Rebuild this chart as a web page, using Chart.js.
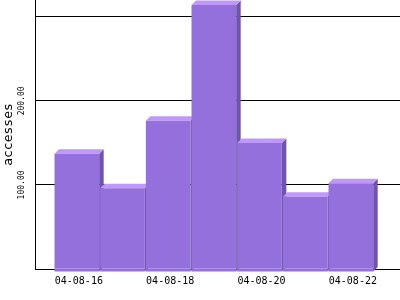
<!DOCTYPE html>
<html>
<head>
<meta charset="utf-8">
<script src="https://cdn.jsdelivr.net/npm/chart.js@4/dist/chart.umd.min.js"></script>
<style>
  html, body { margin: 0; padding: 0; background: #ffffff; }
  #wrap { width: 400px; height: 300px; }
</style>
</head>
<body>
<div id="wrap"><canvas id="chart" width="400" height="300"></canvas></div>
<script>
// --- dados do gráfico ---
const categorias = ['04-08-16', '04-08-17', '04-08-18', '04-08-19', '04-08-20', '04-08-21', '04-08-22'];
const acessos = [137, 96, 176.5, 314, 150, 86, 102];
const posicoesX = [0, 1, 2, 3, 4, 5, 6];
const ticksX = [0, 2, 4, 6];          // rótulos mostrados no eixo x
const gradeY = [0, 100, 200, 300];    // linhas horizontais
const rotulosY = [100, 200];          // valores com texto no eixo y

// cores das faces da barra "3D"
const corFrente = '#9370db';
const corTopo = '#c096ff';
const corLado = '#6e55aa';
const profundidade = 4.5;
const abaixoBase = 3;

Chart.defaults.font.family = "'DejaVu Sans Mono', monospace";
Chart.defaults.color = '#000000';

// Desenha topo e lateral de cada barra antes das frentes, e o pé abaixo da base depois.
const barras3d = {
    id: 'barras3d',
    beforeDatasetsDraw(chart) {
        const ctx = chart.ctx;
        const meta = chart.getDatasetMeta(0);
        ctx.save();
        meta.data.forEach(bar => {
            const p = bar.getProps(['x', 'y', 'width', 'base'], true);
            const L = p.x - p.width / 2;
            const R = p.x + p.width / 2;
            const T = p.y;
            const B = p.base + abaixoBase;
            const d = profundidade;
            // lateral
            ctx.fillStyle = corLado;
            ctx.beginPath();
            ctx.moveTo(R, T);
            ctx.lineTo(R + d, T - d);
            ctx.lineTo(R + d, B - d);
            ctx.lineTo(R, B);
            ctx.closePath();
            ctx.fill();
            // topo
            ctx.fillStyle = corTopo;
            ctx.beginPath();
            ctx.moveTo(L, T);
            ctx.lineTo(L + d, T - d);
            ctx.lineTo(R + d, T - d);
            ctx.lineTo(R, T);
            ctx.closePath();
            ctx.fill();
        });
        ctx.restore();
    },
    afterDatasetsDraw(chart) {
        const ctx = chart.ctx;
        const meta = chart.getDatasetMeta(0);
        ctx.save();
        ctx.fillStyle = corFrente;
        meta.data.forEach(bar => {
            const p = bar.getProps(['x', 'width', 'base'], true);
            ctx.fillRect(p.x - p.width / 2, p.base, p.width, abaixoBase);
        });
        ctx.restore();
    },
    afterDraw(chart) {
        // rótulos do eixo y, girados na vertical
        const ctx = chart.ctx;
        const escalaY = chart.scales.y;
        ctx.save();
        ctx.font = "8px 'DejaVu Sans Mono', monospace";
        ctx.fillStyle = '#000000';
        ctx.textAlign = 'center';
        ctx.textBaseline = 'middle';
        rotulosY.forEach(v => {
            const y = escalaY.getPixelForValue(v);
            ctx.save();
            ctx.translate(22, y);
            ctx.rotate(-Math.PI / 2);
            ctx.fillText(v.toFixed(2), 0, 0);
            ctx.restore();
        });
        ctx.restore();
    }
};

new Chart(document.getElementById('chart'), {
    type: 'bar',
    data: {
        datasets: [{
            label: 'accesses',
            data: posicoesX.map((x, i) => ({ x: x, y: acessos[i] })),
            backgroundColor: corFrente,
            borderWidth: 0,
            inflateAmount: 0,
            barPercentage: 0.978,
            categoryPercentage: 1
        }]
    },
    options: {
        responsive: false,
        animation: false,
        layout: { padding: 0 },
        plugins: {
            legend: { display: false },
            tooltip: { enabled: false }
        },
        scales: {
            x: {
                type: 'linear',
                offset: false,
                min: -0.916,
                max: 7.076,
                afterBuildTicks: scale => { scale.ticks = ticksX.map(v => ({ value: v })); },
                afterFit: scale => { scale.height = 31; },
                grid: { display: false, drawTicks: false, offset: false },
                border: { display: true, color: '#000000', width: 1 },
                ticks: {
                    padding: 6,
                    labelOffset: 2,
                    maxRotation: 0,
                    autoSkip: false,
                    font: { size: 10 },
                    callback: value => categorias[value]
                }
            },
            y: {
                min: 0,
                max: 320,
                afterBuildTicks: scale => { scale.ticks = gradeY.map(v => ({ value: v })); },
                afterFit: scale => { scale.width = 35; },
                grid: { color: '#000000', lineWidth: 1, drawTicks: false },
                border: { display: true, color: '#000000', width: 1 },
                ticks: { display: false },
                title: {
                    display: true,
                    text: 'accesses',
                    font: { size: 13 },
                    padding: { top: 1, bottom: 0 }
                }
            }
        }
    },
    plugins: [barras3d]
});
</script>
</body>
</html>
